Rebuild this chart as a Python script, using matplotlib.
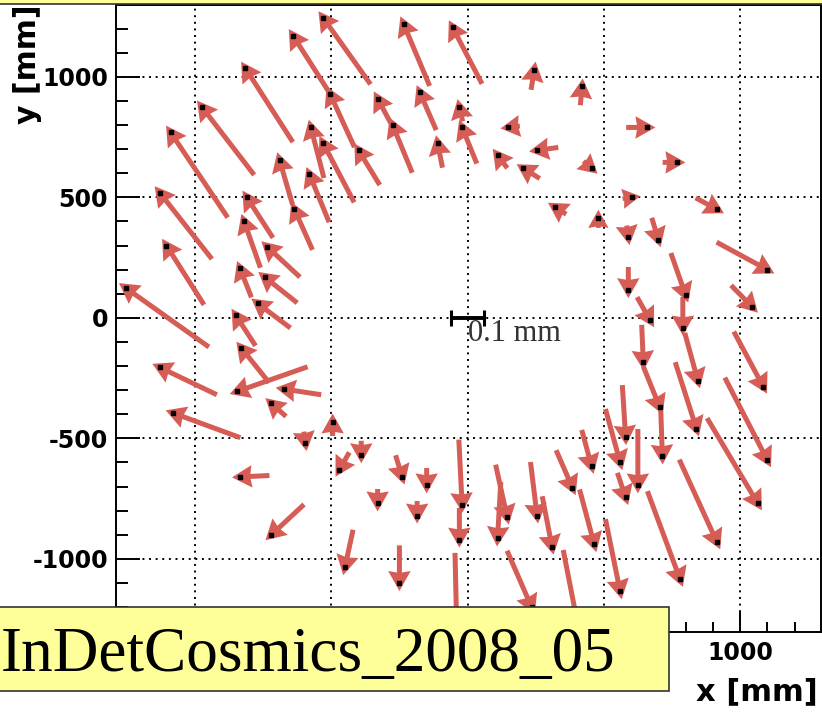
import numpy as np
import matplotlib
matplotlib.use("Agg")
import matplotlib.pyplot as plt
from matplotlib.patches import Rectangle

# ---------------- data ----------------
# module positions (mm) and measured displacement (micrometres)
x_mm = [-640, -530, -815, -975, -1090, -1130, -1105, -1255, -1130, -1080,
        -835, -720, -810, -820, -735, -835, -745, -770, -850, -830,
        -845, -675, -720, -690, -635, -580, -575, -530, -505, -400,
        -330, -275, -235, -175, -110, -55, -30, -20, 150, 110,
        205, 255, 320, 245, 420, 660, 770, 455, 605, 480,
        915, 590, 700, 1100, 590, 800, 1045, 670, 790, 645,
        845, 1085, 705, 840, 1100, 580, 560, 455, 715, 625,
        580, 385, 465, 310, 255, 560, 780, 915, 1065, 235,
        145, 110, -20, -30, -330, -185, -150, -240, -390, -470,
        -595, -495, -450, -250, -40, 405]
y_mm = [1170, 1245, 1035, 875, 770, 520, 300, 125, -205, -395,
        -660, -900, 500, 400, 295, 205, 170, 60, 10, -125,
        -305, -295, -355, 655, 450, 595, 790, 725, 930, 695,
        910, 800, 1220, 935, 725, 1205, 875, 790, 790, 675,
        620, 695, 460, 1030, 960, 790, 645, 620, 500, 415,
        450, 335, 325, 200, 115, 95, 45, -10, -40, -185,
        -260, -285, -370, -460, -590, -495, -600, -615, -575, -695,
        -745, -705, -940, -950, -820, -1135, -1085, -930, -770, -1200,
        -825, -915, -775, -920, -770, -820, -695, -660, -570, -630,
        -520, -430, -1035, -1100, -1275, -1275]
dx_um = [-110, -145, -145, -160, -175, -160, -115, -255, -175, -205,
         -90, -100, -80, -50, -100, -35, -100, -100, -60, -85,
         -215, -115, -45, -40, -55, -60, -40, -95, -75, -65,
         -40, -60, -80, -50, -15, -90, -10, -45, -35, -30,
         -50, -65, -35, 10, 5, 65, 45, 25, 30, 0,
         65, 5, 20, 155, 0, 45, 65, 40, 0, 5,
         40, 90, 50, 65, 130, 10, 45, 30, 5, 0,
         25, 50, 45, 30, 20, 45, 100, 115, 155, 75,
         35, -10, 10, 0, 0, 0, 0, 20, 0, -30,
         5, 0, -25, 0, 5, 45]
dy_um = [195, 230, 255, 235, 295, 230, 205, 205, 95, 85,
         -5, -105, 140, 160, 105, 100, 90, 85, 105, 120,
         -85, 20, 45, 155, 140, 165, 175, 205, 185, 120,
         85, 165, 215, 130, 85, 195, 50, 125, -5, 45,
         35, -10, 25, 70, 65, 0, 0, -25, 5, 35,
         -40, -40, -75, -95, -80, -145, -75, -80, -105, -130,
         -165, -190, -140, -230, -285, -180, -185, -125, -160, -195,
         -85, -130, -190, -175, -185, -250, -305, -285, -295, -195,
         -180, -195, -225, -110, -50, -50, -60, -75, -50, -60,
         -40, 50, -130, -130, -250, -260]

MAG = 1200.0            # arrow magnification (plot mm per mm of displacement)
scale_bar_mm = 0.1
major_ticks = [-1000, -500, 0, 500, 1000]
y_labels = ["-1000", "-500", "0", "500", "1000"]
# x labels below -1000..500 are hidden behind the run-label box in the original
x_labels = ["", "", "", "", "1000"]
minor_ticks = np.arange(-1200, 1201, 100)
run_label = "InDetCosmics_2008_05"

# ---------------- figure ----------------
W, H = 822, 712
RED = "#d65c56"
YELLOW = "#ffff99"
fig = plt.figure(figsize=(W / 100, H / 100), dpi=100)
ax_l, ax_r, ax_t, ax_b = 116, 821, 4.5, 631.7
ax = fig.add_axes([ax_l / W, 1 - ax_b / H, (ax_r - ax_l) / W, (ax_b - ax_t) / H])
xlim = (-1290, 1297)
ylim = (-1302, 1300)
ax.set_xlim(*xlim)
ax.set_ylim(*ylim)

ax.set_xticks(major_ticks)
ax.set_yticks(major_ticks)
ax.set_xticklabels(x_labels)
ax.set_yticklabels(y_labels)
ax.set_xticks(minor_ticks, minor=True)
ax.set_yticks(minor_ticks, minor=True)
ax.grid(which="major", color="black", linestyle=(0, (1, 2.4)), linewidth=1.4)
ax.set_axisbelow(True)

for s in ax.spines.values():
    s.set_linewidth(1.4)
    s.set_color("black")

ax.tick_params(axis="y", which="major", direction="in", length=17, width=1.4,
               pad=5.8, labelsize=17, left=True, right=False)
ax.tick_params(axis="y", which="minor", direction="in", length=8.5, width=1.4,
               left=True, right=False)
ax.tick_params(axis="x", which="major", direction="in", length=15, width=1.4,
               pad=6.7, labelsize=17, bottom=True, top=False)
ax.tick_params(axis="x", which="minor", direction="in", length=7, width=1.4,
               bottom=True, top=False)
for lab in ax.get_xticklabels() + ax.get_yticklabels():
    lab.set_fontweight("bold")

# arrows
x = np.array(x_mm, float)
y = np.array(y_mm, float)
u = np.array(dx_um, float) * MAG / 1000.0
v = np.array(dy_um, float) * MAG / 1000.0
kx = (ax_r - ax_l) / (xlim[1] - xlim[0])
ky = (ax_b - ax_t) / (ylim[1] - ylim[0])
dxp, dyp = u * kx, v * ky
L = np.hypot(dxp, dyp)
L[L == 0] = 1.0
ext = 8.0
tip_x = x + ext * dxp / L / kx
tip_y = y + ext * dyp / L / ky
tail_x = x - u
tail_y = y - v
ax.quiver(tail_x, tail_y, tip_x - tail_x, tip_y - tail_y,
          angles="xy", scale_units="xy", scale=1, units="dots",
          width=5.0, headwidth=4.5, headlength=4.0, headaxislength=3.7,
          color=RED, zorder=3)
ax.plot(x, y, "s", ms=2.4, color="black", zorder=4)

# scale bar
half = 0.5 * scale_bar_mm * MAG
ax.plot([-half, half], [0, 0], color="black", lw=2.8, solid_capstyle="butt", zorder=5)
ax.plot([-half, half], [0, 0], ls="none", marker="|", ms=11, mew=2.2, color="black", zorder=5)
ax.annotate(f"{scale_bar_mm:g} mm", xy=(0, 0), xytext=(0, -17), textcoords="offset points",
            ha="left", va="baseline", family="Liberation Serif", fontsize=22,
            color="#333333", zorder=5)

# axis titles
fig.text(818 / W, 1 - 691.5 / H, "x [mm]", ha="right", va="center",
         fontsize=22, fontweight="bold")
fig.text(27.5 / W, 1 - 4.5 / H, "y [mm]", rotation=90, ha="center", va="top",
         fontsize=21.5, fontweight="bold")

# top (cropped) title box
fig.add_artist(Rectangle((-0.01, 1 - 4 / H), 1.02, 0.05, transform=fig.transFigure,
                         facecolor=YELLOW, edgecolor="#333333", lw=1.2, zorder=6))
# run label box
fig.add_artist(Rectangle((-5 / W, 1 - 691 / H), (669 + 5) / W, (691 - 607) / H,
                         transform=fig.transFigure, facecolor=YELLOW,
                         edgecolor="#333333", lw=1.2, zorder=6))
fig.text(0.5 / W, 1 - 670.7 / H, run_label, ha="left", va="baseline",
         family="Liberation Serif", fontsize=45.5, zorder=7)

fig.savefig("out.png", dpi=100)
